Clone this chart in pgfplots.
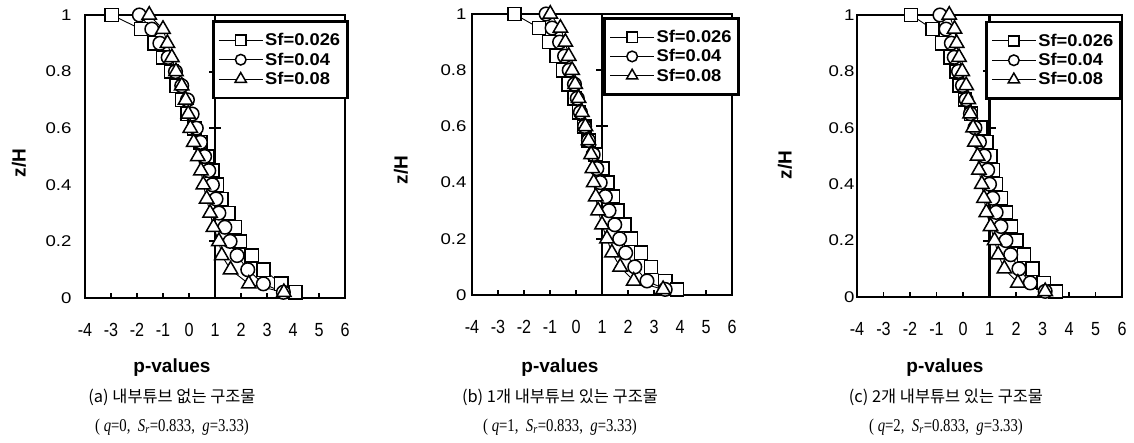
\documentclass[border=0pt]{standalone}
\usepackage{fontspec}
\setmainfont{Liberation Sans}
\newfontfamily\kr{Noto Sans CJK KR}
\newfontfamily\capserif[FakeStretch=0.82]{Liberation Serif}
\newfontfamily\ytf[FakeStretch=1.2]{Liberation Sans}
\newfontfamily\xtf[FakeStretch=0.85]{Liberation Sans}
\newfontfamily\lgf[FakeStretch=1.08]{Liberation Sans}
\usepackage{pgfplots}
\usepackage{pgfplotstable}
\pgfplotsset{compat=1.18}

\pgfplotstableread{
z    sq     ci     tr
1.00 -2.97  -1.91  -1.53
0.95 -1.85  -1.43  -1.00
0.90 -1.33  -1.12  -0.83
0.85 -0.99  -0.80  -0.66
0.80 -0.68  -0.52  -0.50
0.75 -0.47  -0.28  -0.28
0.70 -0.27  -0.06  -0.13
0.65 -0.05   0.12  -0.03
0.60  0.20   0.28   0.05
0.55  0.44   0.44   0.18
0.50  0.68   0.60   0.34
0.45  0.90   0.76   0.46
0.40  1.08   0.90   0.55
0.35  1.25   1.04   0.68
0.30  1.51   1.15   0.81
0.25  1.77   1.38   0.94
0.20  1.95   1.58   1.15
0.15  2.41   1.85   1.26
0.10  2.86   2.26   1.60
0.05  3.55   2.86   2.30
0.02  4.10   3.63   3.65
}\dataA

\pgfplotstableread{
z    sq     ci     tr
1.00 -2.37  -1.15  -0.99
0.95 -1.42  -0.92  -0.60
0.90 -1.04  -0.63  -0.41
0.85 -0.75  -0.44  -0.28
0.80 -0.50  -0.26  -0.15
0.75 -0.29  -0.06  -0.03
0.70 -0.05   0.05   0.10
0.65  0.12   0.17   0.23
0.60  0.32   0.33   0.36
0.55  0.49   0.48   0.48
0.50  0.76   0.66   0.58
0.45  1.01   0.80   0.63
0.40  1.21   0.93   0.68
0.35  1.41   1.13   0.76
0.30  1.59   1.27   0.85
0.25  1.87   1.49   1.00
0.20  2.12   1.68   1.19
0.15  2.50   1.91   1.38
0.10  2.89   2.26   1.70
0.05  3.43   2.73   2.22
0.02  3.88   3.43   3.35
}\dataB

\pgfplotstableread{
z    sq     ci     tr
1.00 -1.96  -0.87  -0.52
0.95 -1.15  -0.64  -0.32
0.90 -0.78  -0.44  -0.24
0.85 -0.46  -0.33  -0.15
0.80 -0.25  -0.17  -0.03
0.75 -0.12  -0.02   0.12
0.70  0.07   0.12   0.20
0.65  0.30   0.28   0.27
0.60  0.65   0.45   0.38
0.55  0.88   0.62   0.45
0.50  1.03   0.80   0.55
0.45  1.12   0.93   0.60
0.40  1.25   1.00   0.71
0.35  1.43   1.12   0.79
0.30  1.62   1.25   0.88
0.25  1.80   1.43   1.04
0.20  2.01   1.62   1.19
0.15  2.30   1.80   1.33
0.10  2.62   2.11   1.56
0.05  3.05   2.54   2.07
0.02  3.50   3.10   3.10
}\dataC

\pgfplotsset{
  panel/.style={
    scale only axis, clip=false,
    xmin=-4, xmax=6, ymin=0, ymax=1,
    axis line style={line width=2.2pt},
    xtick={-4,-3,...,6},
    xticklabels={-4,-3,-2,-1,0,1,2,3,4,5,6},
    ytick={0,0.2,0.4,0.6,0.8,1},
    yticklabels={0,0.2,0.4,0.6,0.8,1},
    xtick pos=lower, ytick pos=left,
    tick align=inside, major tick length=5pt,
    xtick style={line width=1.6pt, black},
    ytick style={draw=none},
    xticklabel style={font=\xtf\fontsize{19}{19}\selectfont, yshift=-22pt},
    yticklabel style={font=\ytf\fontsize{15.5}{15.5}\selectfont},
    legend cell align=left,
    legend image code/.code={\draw[##1, mark repeat=2, mark phase=2, every mark/.append style={scale=0.78}] plot coordinates {(0pt,0pt) (22pt,0pt) (44pt,0pt)};},
    legend style={draw=black, line width=2.8pt, fill=white, anchor=north west,
      font=\lgf\bfseries\fontsize{17}{17}\selectfont,
      nodes={inner sep=2pt},
      inner xsep=5pt, inner ysep=10pt, row sep=1.5pt},
  },
  sqs/.style={black, line width=0.9pt, mark=square*, mark size=6.6pt, mark options={solid, fill=white, draw=black, line width=1.5pt}},
  cis/.style={black, line width=0.9pt, mark=*, mark size=6.8pt, mark options={solid, fill=white, draw=black, line width=1.5pt}},
  trs/.style={black, line width=0.9pt, mark=triangle*, mark size=8.3pt, mark options={solid, fill=white, draw=black, line width=1.5pt}},
}

\newcommand{\refline}{%
  \draw[line width=2.8pt] (axis cs:1,0) -- (axis cs:1,1);
  \draw[line width=2pt] (axis cs:0.77,0.2) -- (axis cs:1.23,0.2);
  \draw[line width=2pt] (axis cs:0.77,0.4) -- (axis cs:1.23,0.4);
  \draw[line width=2pt] (axis cs:0.77,0.6) -- (axis cs:1.23,0.6);
  \draw[line width=2pt] (axis cs:0.77,0.8) -- (axis cs:1.23,0.8);
}

\begin{document}
\begin{tikzpicture}
\useasboundingbox (0pt,0pt) rectangle (1134pt,443pt);

% ---------- (a)
\begin{axis}[panel, at={(85pt,145pt)}, anchor=south west, width=260pt, height=283pt,
  yticklabel style={xshift=-10pt},
  legend style={at={(axis cs:0.88,0.982)}}]
\refline
\addplot[sqs] table[x=sq, y=z] {\dataA};
\addplot[cis] table[x=ci, y=z] {\dataA};
\addplot[trs] table[x=tr, y=z] {\dataA};
\legend{Sf=0.026, Sf=0.04, Sf=0.08}
\end{axis}

% ---------- (b)
\begin{axis}[panel, at={(472pt,148pt)}, anchor=south west, width=260pt, height=281pt,
  yticklabel style={xshift=-2pt},
  legend style={at={(axis cs:1.05,0.99)}}]
\refline
\addplot[sqs] table[x=sq, y=z] {\dataB};
\addplot[cis] table[x=ci, y=z] {\dataB};
\addplot[trs] table[x=tr, y=z] {\dataB};
\legend{Sf=0.026, Sf=0.04, Sf=0.08}
\end{axis}

% ---------- (c)
\begin{axis}[panel, at={(857pt,146pt)}, anchor=south west, width=265pt, height=282pt,
  yticklabel style={xshift=1pt},
  legend style={at={(axis cs:0.83,0.98)}}]
\refline
\addplot[sqs] table[x=sq, y=z] {\dataC};
\addplot[cis] table[x=ci, y=z] {\dataC};
\addplot[trs] table[x=tr, y=z] {\dataC};
\legend{Sf=0.026, Sf=0.04, Sf=0.08}
\end{axis}

% axis titles and captions
\foreach \cx/\yx/\yy in {172/19/280, 560/401/273, 945/785/278}{
  \node[rotate=90, font=\bfseries\fontsize{19}{19}\selectfont] at (\yx pt,\yy pt) {z/H};
  \node[font=\bfseries\fontsize{19}{19}\selectfont] at (\cx pt,75pt) {p-values};
}
\node[font=\kr\fontsize{16.4}{18}\selectfont] at (172pt,46pt) {(a) 내부튜브 없는 구조물};
\node[font=\kr\fontsize{16.4}{18}\selectfont] at (560pt,46pt) {(b) 1개 내부튜브 있는 구조물};
\node[font=\kr\fontsize{16.4}{18}\selectfont] at (946pt,46pt) {(c) 2개 내부튜브 있는 구조물};
\node[font=\capserif\fontsize{18}{20}\selectfont] at (172pt,16pt) {( {\itshape q}=0, \ {\itshape S}\textsubscript{\itshape r}=0.833, \ {\itshape g}=3.33)};
\node[font=\capserif\fontsize{18}{20}\selectfont] at (560pt,16pt) {( {\itshape q}=1, \ {\itshape S}\textsubscript{\itshape r}=0.833, \ {\itshape g}=3.33)};
\node[font=\capserif\fontsize{18}{20}\selectfont] at (946pt,16pt) {( {\itshape q}=2, \ {\itshape S}\textsubscript{\itshape r}=0.833, \ {\itshape g}=3.33)};
\end{tikzpicture}
\end{document}
